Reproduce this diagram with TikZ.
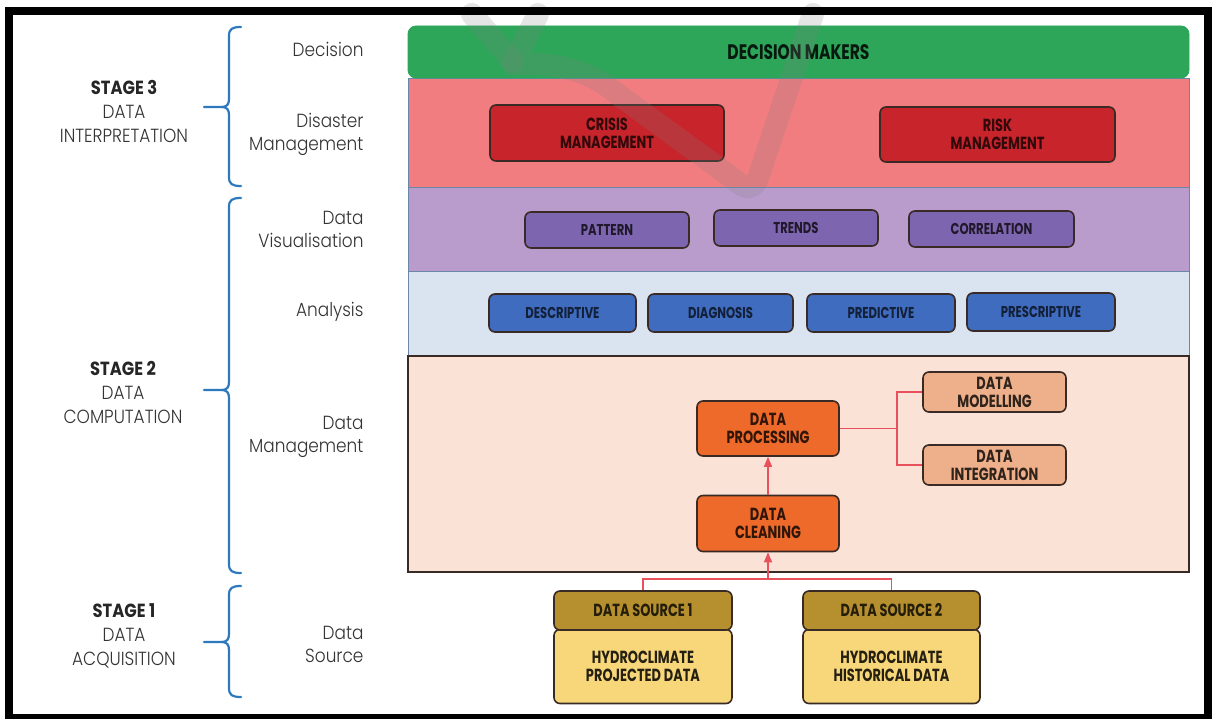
\documentclass[tikz,border=0pt]{standalone}
\usepackage{fontspec}
\setmainfont{Poppins}
\newfontfamily\lblfont{Poppins Light}[FakeStretch=0.89]
\newfontfamily\stagefont{Poppins}[FakeStretch=0.86]
\newfontfamily\boxfont{Poppins}[FakeStretch=0.74]
\usetikzlibrary{arrows.meta}

\definecolor{lgreen}{HTML}{2EA65A}
\definecolor{lred}{HTML}{F27D80}
\definecolor{bred}{HTML}{C8242B}
\definecolor{lpurple}{HTML}{B99BCC}
\definecolor{bpurple}{HTML}{7E65AF}
\definecolor{lblue}{HTML}{DAE3F0}
\definecolor{bblue}{HTML}{3F6CBE}
\definecolor{lpeach}{HTML}{FAE3D6}
\definecolor{borange}{HTML}{EE6A2A}
\definecolor{btan}{HTML}{EDB08A}
\definecolor{bgold}{HTML}{B68F2F}
\definecolor{byellow}{HTML}{F7D77A}
\definecolor{layerline}{HTML}{6B86A8}
\definecolor{boxline}{HTML}{3A2A25}
\definecolor{bracecol}{HTML}{2E78BE}
\definecolor{linkred}{HTML}{E8505C}
\definecolor{labelgray}{HTML}{333333}

\tikzset{
  layer/.style={draw=layerline, line width=0.8pt, inner sep=0pt},
  box/.style={draw=boxline, line width=1.6pt, rounded corners=6pt, inner sep=0pt,
    align=center, font=\boxfont\bfseries\fontsize{15.7}{18}\selectfont},
  bigtext/.style={font=\boxfont\bfseries\fontsize{17.5}{18}\selectfont},
  layername/.style={anchor=east, align=right, text=labelgray,
    font=\lblfont\fontsize{19}{23}\selectfont},
  stagetext/.style={align=center, text=labelgray,
    font=\lblfont\fontsize{19}{24}\selectfont},
  brace/.style={draw=bracecol, line width=2.2pt, line cap=round},
  link/.style={draw=linkred, line width=1.3pt},
  linkarrow/.style={link, -{Triangle[length=10pt,width=8pt]}},
  watermark/.style={draw=gray, line width=22pt, opacity=0.2, line cap=round, line join=round},
}

% curly bracket opening to the right, with its tip at mid height
\newcommand\stagebrace[3]{%
  \draw[brace] (241,#1) .. controls (232,#1) and (229,#1+2) .. (229,#1+9)
    -- (229,#2-8) .. controls (229,#2-3) and (227,#2) .. (222,#2) -- (204,#2);
  \draw[brace] (222,#2) .. controls (227,#2) and (229,#2+3) .. (229,#2+8)
    -- (229,#3-9) .. controls (229,#3-2) and (232,#3) .. (241,#3);
}

\begin{document}
\begin{tikzpicture}[x=1pt,y=-1pt]
\useasboundingbox (0,0) rectangle (1220,719);
\fill[white] (0,0) rectangle (1220,719);

% ---- layers ----
\node[layer, fill=lred, minimum width=781pt, minimum height=109pt] (disaster) at (798.5,132.5) {};
\node[layer, fill=lgreen, draw=lgreen, rounded corners=8pt, minimum width=781pt, minimum height=52pt,
  font=\boxfont\bfseries\fontsize{21}{22}\selectfont, text=black!85!lgreen] (decision) at (798.5,52) {DECISION MAKERS};
\node[layer, fill=lpurple, minimum width=781pt, minimum height=84pt] (visual) at (798.5,229) {};
\node[layer, fill=lblue, minimum width=781pt, minimum height=85pt] (analysis) at (798.5,313.5) {};
\node[layer, fill=lpeach, draw=boxline, line width=1.5pt, minimum width=781pt, minimum height=216pt] (manage) at (798.5,464) {};

% ---- disaster management ----
\node[box, bigtext, fill=bred, text=black!75!bred, minimum width=234pt, minimum height=56pt] (crisis) at (607,133) {CRISIS\\MANAGEMENT};
\node[box, bigtext, fill=bred, text=black!75!bred, minimum width=235pt, minimum height=55pt] (risk) at (997.5,134.5) {RISK\\MANAGEMENT};

% ---- visualisation ----
\node[box, fill=bpurple, text=black!75!bpurple, minimum width=164pt, minimum height=36pt] (pattern) at (607,230) {PATTERN};
\node[box, fill=bpurple, text=black!75!bpurple, minimum width=164pt, minimum height=36pt] (trends) at (796,228) {TRENDS};
\node[box, fill=bpurple, text=black!75!bpurple, minimum width=165pt, minimum height=36pt] (correl) at (991.5,229) {CORRELATION};

% ---- analysis ----
\node[box, fill=bblue, text=black!70!bblue, minimum width=147pt, minimum height=38pt] (descr) at (562.5,313) {DESCRIPTIVE};
\node[box, fill=bblue, text=black!70!bblue, minimum width=145pt, minimum height=38pt] (diagn) at (720.5,313) {DIAGNOSIS};
\node[box, fill=bblue, text=black!70!bblue, minimum width=148pt, minimum height=38pt] (predi) at (881,313) {PREDICTIVE};
\node[box, fill=bblue, text=black!70!bblue, minimum width=148pt, minimum height=38pt] (presc) at (1041,312) {PRESCRIPTIVE};

% ---- data management ----
\node[box, bigtext, fill=borange, text=black!80!borange, minimum width=142pt, minimum height=55pt] (proc) at (768,428.5) {DATA\\PROCESSING};
\node[box, bigtext, fill=borange, text=black!80!borange, minimum width=142pt, minimum height=56pt] (clean) at (768,523.5) {DATA\\CLEANING};
\node[box, bigtext, fill=btan, text=black!80!btan, minimum width=143pt, minimum height=40pt] (model) at (994.5,392) {DATA\\MODELLING};
\node[box, bigtext, fill=btan, text=black!80!btan, minimum width=143pt, minimum height=40pt] (integ) at (994.5,465) {DATA\\INTEGRATION};

% ---- data sources ----
\node[box, bigtext, fill=byellow, text=black!85!byellow, minimum width=178pt, minimum height=74pt] (body1) at (643,666.5) {HYDROCLIMATE\\PROJECTED DATA};
\node[box, bigtext, fill=bgold, text=black!80!bgold, minimum width=178pt, minimum height=39pt] (src1) at (643,610.5) {DATA SOURCE 1};
\node[box, bigtext, fill=byellow, text=black!85!byellow, minimum width=177pt, minimum height=74pt] (body2) at (891.5,666.5) {HYDROCLIMATE\\HISTORICAL DATA};
\node[box, bigtext, fill=bgold, text=black!80!bgold, minimum width=177pt, minimum height=39pt] (src2) at (891.5,610.5) {DATA SOURCE 2};

% ---- connectors ----
\coordinate (bus) at (768,579);
\coordinate (split) at (897,428.5);
\draw[link] (src1.north) -- (src1.north |- bus) -- (src2.north |- bus) -- (src2.north);
\draw[linkarrow] (bus) -- (clean.south);
\draw[linkarrow] (clean.north) -- (proc.south);
\draw[link] (proc.east) -- (split);
\draw[link] (model.west) -| (split |- integ.west) -- (integ.west);

% ---- faint check-mark stroke over the upper layers ----
\draw[watermark] (472,14) -- (513,62);
\draw[watermark] (538,14) -- (513,64)
  .. controls (560,62) and (592,72) .. (620,96) -- (735,180)
  .. controls (746,190) and (753,190) .. (758,178) -- (813,14);

% ---- stage brackets ----
\stagebrace{27}{107}{186}
\stagebrace{198}{390}{573}
\stagebrace{586}{642}{697}

% ---- stage titles ----
\node[stagetext] (stage3) at (124,111) {{\stagefont\bfseries\color{black!85}STAGE 3}\\DATA\\INTERPRETATION};
\node[stagetext] (stage2) at (123,392) {{\stagefont\bfseries\color{black!85}STAGE 2}\\DATA\\COMPUTATION};
\node[stagetext] (stage1) at (124,636) {{\stagefont\bfseries\color{black!85}STAGE 1}\\DATA\\ACQUISITION};

% ---- layer names ----
\node[layername] (nDecision) at (367,49) {Decision};
\node[layername] (nDisaster) at (367,134.5) {Disaster\\Management};
\node[layername] (nVisual) at (367,229) {Data\\Visualisation};
\node[layername] (nAnalysis) at (367,312) {Analysis};
\node[layername] (nManage) at (367,436.5) {Data\\Management};
\node[layername] (nSource) at (367,644) {Data\\Source};

% ---- outer frame ----
\draw[black, line width=8pt] (9,11.5) rectangle (1208,718);
\end{tikzpicture}
\end{document}
